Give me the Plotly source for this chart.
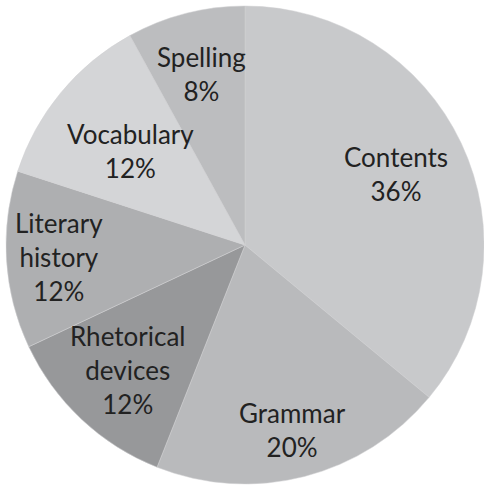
import math
import plotly.graph_objects as go

categories = ["Contents", "Grammar", "Rhetorical<br>devices", "Literary<br>history", "Vocabulary", "Spelling"]
values = [36, 20, 12, 12, 12, 8]
colors = ["#c8c9cb", "#b9babc", "#97989a", "#aeafb1", "#d4d5d7", "#bcbdbf"]
# radial placement of each label as a fraction of the radius
label_r = [0.70, 0.80, 0.72, 0.78, 0.62, 0.74]

W, H = 484, 488
ml, mr, mt, mb = 6, 0, 5, 3
pw, ph = W - ml - mr, H - mt - mb
R = min(pw, ph) / 2

fig = go.Figure(go.Pie(
    labels=[c.replace("<br>", " ") for c in categories],
    values=values,
    sort=False,
    direction="clockwise",
    rotation=0,
    textinfo="none",
    marker=dict(colors=colors, line=dict(color="#d0d1d3", width=0.5)),
    showlegend=False,
    hoverinfo="label+percent",
))

total = sum(values)
cum = 0
annotations = []
for cat, v, rf in zip(categories, values, label_r):
    mid = (cum + v / 2) / total * 2 * math.pi
    cum += v
    dx = math.sin(mid) * R * rf
    dy = math.cos(mid) * R * rf
    annotations.append(dict(
        x=0.5 + dx / pw, y=0.5 + dy / ph, xref="paper", yref="paper",
        text=f"{cat}<br>{round(v / total * 100)}%",
        showarrow=False, xanchor="center", yanchor="middle",
        font=dict(family="Lato", size=26, color="#222222"),
    ))

fig.update_layout(
    width=W, height=H,
    margin=dict(l=ml, r=mr, t=mt, b=mb),
    paper_bgcolor="white", plot_bgcolor="white",
    annotations=annotations,
)

fig.write_html("out.html")
